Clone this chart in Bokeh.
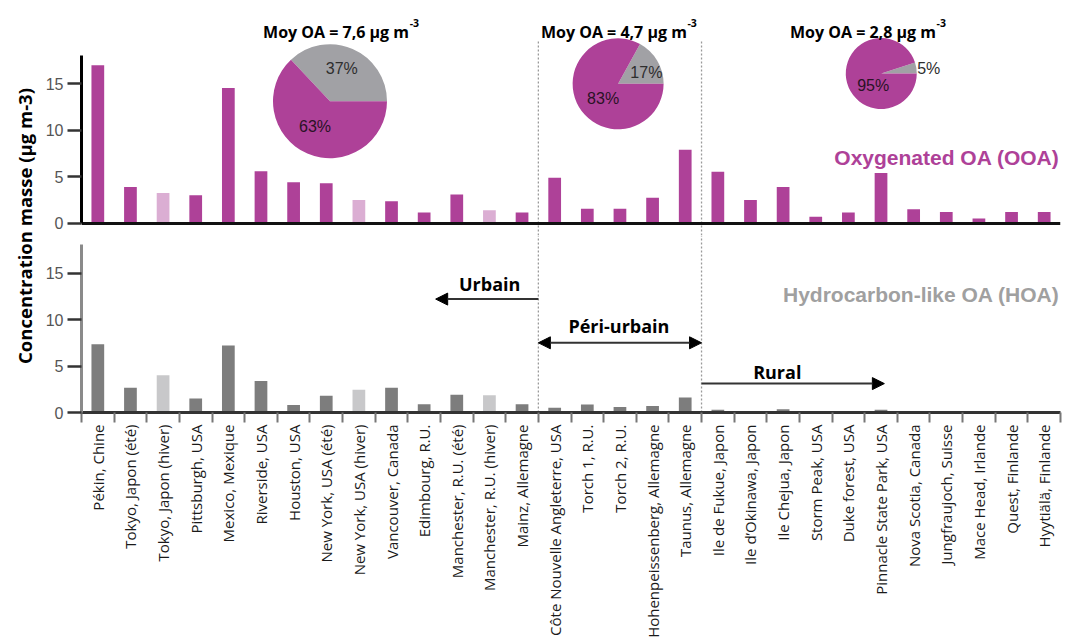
import math
from bokeh.plotting import figure
from bokeh.models import ColumnDataSource, FixedTicker, Range1d, Arrow, NormalHead
from bokeh.layouts import row, column
from bokeh.core.properties import value
from bokeh.embed import file_html
from bokeh.resources import INLINE

# ---------------- data ----------------
sites = ["Pékin, Chine", "Tokyo, Japon (été)", "Tokyo, Japon (hiver)", "Pittsburgh, USA",
         "Mexico, Mexique", "Riverside, USA", "Houston, USA", "New York, USA (été)",
         "New York, USA (hiver)", "Vancouver, Canada", "Edimbourg, R.U.",
         "Manchester, R.U. (été)", "Manchester, R.U. (hiver)", "Mainz, Allemagne",
         "Côte Nouvelle Angleterre, USA", "Torch 1, R.U.", "Torch 2, R.U.",
         "Hohenpeissenberg, Allemagne", "Taunus, Allemagne", "Ile de Fukue, Japon",
         "Ile d’Okinawa, Japon", "Ile Chejua, Japon", "Storm Peak, USA", "Duke forest, USA",
         "Pinnacle State Park, USA", "Nova Scotia, Canada", "Jungfraujoch, Suisse",
         "Mace Head, Irlande", "Quest, Finlande", "Hyytiälä, Finlande"]
zone = ["Urbain"] * 14 + ["Péri-urbain"] * 5 + ["Rural"] * 11
hiver = [False, False, True, False, False, False, False, False, True, False, False, False, True, False,
         False, False, False, False, False, False, False, False, False, False, False, False, False,
         False, False, False]
ooa = [17.0, 3.9, 3.25, 3.0, 14.55, 5.6, 4.4, 4.3, 2.5, 2.35, 1.15, 3.1, 1.4, 1.15,
       4.9, 1.55, 1.55, 2.75, 7.9, 5.55, 2.5, 3.9, 0.7, 1.15, 5.4, 1.5, 1.2, 0.5, 1.2, 1.2]
hoa = [7.35, 2.65, 4.0, 1.5, 7.2, 3.4, 0.8, 1.8, 2.45, 2.65, 0.9, 1.9, 1.85, 0.9,
       0.5, 0.85, 0.6, 0.7, 1.6, 0.3, 0.05, 0.35, 0.15, 0.15, 0.3, 0.1, 0.05, 0.05, 0.1, 0.05]
pie_moy_oa = [7.6, 4.7, 2.8]
pie_ooa_pct = [63, 83, 95]
pie_hoa_pct = [37, 17, 5]
yticks = [0, 5, 10, 15]

# ---------------- style ----------------
MAG = "#AE4198"
MAG_L = "#DBAED3"
GRY = "#7D7D7D"
GRY_L = "#C8C8CA"
PIE_G = "#A1A1A5"
BOLD = value("Open Sans")
ARIAL = value("Liberation Sans")

# layout helpers: page pixels -> data coordinates (annotations only)
X_LEFT, STEP = 79.0, 32.7
def dx(px): return (px - X_LEFT) / STEP - 0.5
TOP_ZERO, TOP_SCALE = 222.7, 9.29
def ty(py): return (TOP_ZERO - py) / TOP_SCALE
BOT_ZERO, BOT_SCALE = 412.0, 9.30
def by(py): return (BOT_ZERO - py) / BOT_SCALE

n = len(sites)
xs = list(range(n))
bounds_x = [i - 0.5 for i in range(1, n) if zone[i] != zone[i - 1]]

src = ColumnDataSource(dict(
    x=xs, ooa=ooa, hoa=hoa,
    c_ooa=[MAG_L if h else MAG for h in hiver],
    c_hoa=[GRY_L if h else GRY for h in hiver]))

def style_y(p, line_color):
    ax = p.yaxis[0]
    ax.ticker = FixedTicker(ticks=yticks)
    ax.bounds = (0, 18.03)
    ax.axis_line_color = line_color
    ax.axis_line_width = 3
    ax.major_tick_out = 14
    ax.major_tick_in = 0
    ax.major_tick_line_width = 2.5
    ax.major_tick_line_color = "#333333"
    ax.minor_tick_out = 0
    ax.minor_tick_in = 0
    ax.major_label_text_font = "Liberation Sans"
    ax.major_label_text_font_size = "16px"
    ax.major_label_text_color = "#555555"
    ax.major_label_standoff = 4

W_MAIN = 1026
# ---------------- top panel (OOA) ----------------
top = figure(width=W_MAIN, height=235, x_range=Range1d(-0.5, n - 0.5),
             y_range=Range1d(ty(235), ty(0)), output_backend="svg",
             toolbar_location=None, min_border_left=37, min_border_right=8,
             min_border_top=0, min_border_bottom=0)
top.outline_line_color = None
top.grid.visible = False
style_y(top, "black")
xa = top.xaxis[0]
xa.fixed_location = 0
xa.ticker = FixedTicker(ticks=[], minor_ticks=[])
xa.major_label_text_font_size = "0px"
xa.major_tick_out = 0
xa.minor_tick_out = 0
xa.axis_line_width = 3
xa.axis_line_color = "#111111"
xa.bounds = (-0.5, n - 0.5)

top.segment(x0=bounds_x, y0=[ty(235)] * len(bounds_x), x1=bounds_x, y1=[ty(40.7)] * len(bounds_x),
            line_color="#9A9A9A", line_width=1.3, line_dash="2 2")
top.vbar(x="x", top="ooa", width=0.39, fill_color="c_ooa", line_color=None, source=src)

# pies
pie_cx = [dx(328), dx(616.7), dx(880.4)]
pie_cy = [ty(100.7), ty(83.3), ty(73.0)]
pie_r = [57, 45.5, 35.5]
a_hoa = [2 * math.pi * p / 100.0 for p in pie_hoa_pct]
pie_src = ColumnDataSource(dict(x=pie_cx, y=pie_cy, r=pie_r, a=a_hoa))
top.wedge(x="x", y="y", radius="r", radius_units="screen", start_angle=0, end_angle="a",
          fill_color=PIE_G, line_color=None, source=pie_src)
top.wedge(x="x", y="y", radius="r", radius_units="screen", start_angle="a", end_angle=2 * math.pi,
          fill_color=MAG, line_color=None, source=pie_src)

hoa_lab_x = [dx(339.8), dx(645.0), dx(928.0)]
hoa_lab_y = [ty(68.4), ty(72.1), ty(68.1)]
ooa_lab_x = [dx(313.0), dx(601.7), dx(872.3)]
ooa_lab_y = [ty(126.2), ty(97.9), ty(84.6)]
top.text(x=hoa_lab_x, y=hoa_lab_y, text=[f"{p}%" for p in pie_hoa_pct], text_font=ARIAL,
         text_font_size="16px", text_color="#2E2E2E", text_align="center", text_baseline="middle")
top.text(x=ooa_lab_x, y=ooa_lab_y, text=[f"{p}%" for p in pie_ooa_pct], text_font=ARIAL,
         text_font_size="16px", text_color="#2A1226", text_align="center", text_baseline="middle")

# pie titles (with superscript)
title_main = [("Moy OA = " + f"{v:.1f}".replace(".", ",") + " µg m") for v in pie_moy_oa]
title_right = [dx(407.2), dx(685.6), dx(935.2)]
top.text(x=title_right, y=[ty(31.5)] * 3, text=title_main, text_font=BOLD, text_font_style="bold",
         text_font_size="16px", text_color="black", text_align="right", text_baseline="alphabetic")
top.text(x=[t + 0.6 / STEP for t in title_right], y=[ty(22.3)] * 3, text=["-3"] * 3, text_font=BOLD,
         text_font_style="bold", text_font_size="10.5px", text_color="black", text_align="left",
         text_baseline="alphabetic")

top.text(x=[dx(1059)], y=[ty(157.3)], text=["Oxygenated OA (OOA)"], text_font=ARIAL,
         text_font_style="bold", text_font_size="21px", text_color=MAG, text_align="right",
         text_baseline="middle")

# ---------------- bottom panel (HOA) ----------------
bot = figure(width=W_MAIN, height=406, x_range=top.x_range, y_range=Range1d(0, by(235)),
             output_backend="svg", toolbar_location=None, min_border_left=37, min_border_right=8,
             min_border_top=0, min_border_bottom=229)
bot.outline_line_color = None
bot.grid.visible = False
style_y(bot, "#8A8A8A")
bx = bot.xaxis[0]
bx.ticker = FixedTicker(ticks=xs, minor_ticks=[i - 0.5 for i in range(n + 1)])
bx.major_label_overrides = {i: s for i, s in enumerate(sites)}
bx.major_label_orientation = math.pi / 2
bx.major_label_text_font = "Open Sans"
bx.major_label_text_font_size = "15px"
bx.major_label_text_color = "#1A1A1A"
bx.major_label_standoff = 2
bx.major_tick_out = 0
bx.major_tick_in = 0
bx.minor_tick_out = 10
bx.minor_tick_in = 0
bx.minor_tick_line_color = "#777777"
bx.minor_tick_line_width = 2
bx.axis_line_width = 3
bx.axis_line_color = "#333333"
bx.bounds = (-0.5, n - 0.5)

bot.segment(x0=bounds_x, y0=[0] * len(bounds_x), x1=bounds_x, y1=[by(235)] * len(bounds_x),
            line_color="#9A9A9A", line_width=1.3, line_dash="2 2")
bot.vbar(x="x", top="hoa", width=0.39, fill_color="c_hoa", line_color=None, source=src)

bot.text(x=[dx(1059)], y=[by(293.6)], text=["Hydrocarbon-like OA (HOA)"], text_font=ARIAL,
         text_font_style="bold", text_font_size="21px", text_color="#A0A0A0", text_align="right",
         text_baseline="middle")

def head():
    return NormalHead(size=12, fill_color="black", line_color="black")

b1, b2 = bounds_x
bot.add_layout(Arrow(end=head(), x_start=b1, y_start=by(298.6), x_end=dx(433.9), y_end=by(298.6),
                     line_color="#333333", line_width=2))
bot.add_layout(Arrow(start=head(), end=head(), x_start=b1, y_start=by(342.3), x_end=b2,
                     y_end=by(342.3), line_color="#333333", line_width=2))
bot.add_layout(Arrow(end=head(), x_start=b2, y_start=by(383.1), x_end=dx(883.5), y_end=by(383.1),
                     line_color="#333333", line_width=2))
bot.text(x=[dx(488.0), dx(617.5), dx(776.2)], y=[by(283.6), by(325.1), by(371.5)],
         text=["Urbain", "Péri-urbain", "Rural"], text_font=BOLD, text_font_style="bold",
         text_font_size="18px", text_color="black", text_align="center", text_baseline="middle")

# ---------------- y title ----------------
W_LAB, H_ALL = 42, 641
lab = figure(width=W_LAB, height=H_ALL, x_range=Range1d(0, W_LAB), y_range=Range1d(0, H_ALL),
             output_backend="svg", toolbar_location=None, min_border=0,
             x_axis_location=None, y_axis_location=None)
lab.outline_line_color = None
lab.grid.visible = False
lab.text(x=[24], y=[H_ALL - 225.5], text=["Concentration masse (µg m-3)"], angle=math.pi / 2,
         text_font=BOLD, text_font_style="bold", text_font_size="18.5px", text_color="black",
         text_align="center", text_baseline="middle")

p = row(lab, column(top, bot))
open("out.html", "w").write(file_html(p, INLINE))
